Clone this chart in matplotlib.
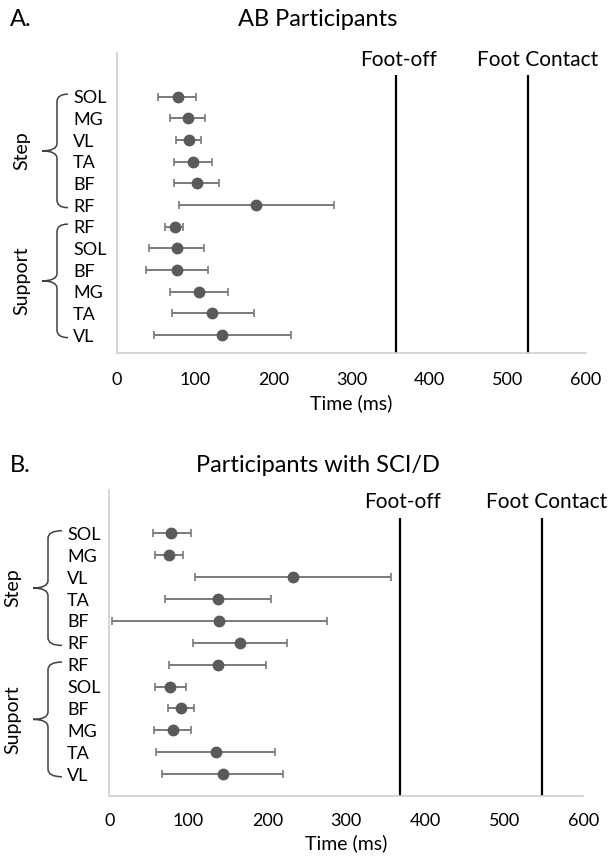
import matplotlib.pyplot as plt
from matplotlib.path import Path
from matplotlib.patches import PathPatch
import matplotlib.transforms as mtransforms

plt.rcParams['font.family'] = ['Lato', 'DejaVu Sans']

muscles = ["SOL", "MG", "VL", "TA", "BF", "RF", "RF", "SOL", "BF", "MG", "TA", "VL"]
muscles_sci = ["SOL", "MG", "VL", "TA", "BF", "RF", "RF", "SOL", "BF", "MG", "TA", "VL"]

# AB participants: mean onset, lower and upper whisker (ms)
ab_mean = [78, 91, 92, 97, 102, 178, 74, 77, 77, 105, 121, 134]
ab_low = [52, 68, 75, 73, 73, 79, 61, 41, 37, 68, 70, 47]
ab_high = [101, 113, 107, 121, 130, 278, 85, 111, 116, 142, 175, 222]
ab_footoff = 357
ab_contact = 526

# SCI/D participants
sci_mean = [78, 76, 232, 138, 139, 165, 137, 77, 91, 80, 135, 144]
sci_low = [55, 58, 109, 71, 3, 106, 76, 58, 74, 56, 59, 67]
sci_high = [103, 93, 356, 205, 275, 225, 198, 97, 107, 103, 210, 220]
sci_footoff = 368
sci_contact = 548

fig = plt.figure(figsize=(6.1, 8.6), dpi=100)
W, H = 610, 860


def brace(ax, y0, y1, xr, xm, xl):
    # curly brace in figure-x / data-y coordinates
    tr = mtransforms.blended_transform_factory(fig.transFigure, ax.transData)
    xr, xm, xl = xr / W, xm / W, xl / W
    ym = (y0 + y1) / 2
    d = 0.35
    verts = [(xr, y0), (xm, y0), (xm, y0 + d), (xm, y0 + d),
             (xm, ym - d), (xm, ym), (xl, ym),
             (xm, ym), (xm, ym + d), (xm, ym + d),
             (xm, y1 - d), (xm, y1), (xr, y1)]
    codes = [Path.MOVETO, Path.CURVE3, Path.CURVE3, Path.LINETO,
             Path.LINETO, Path.CURVE3, Path.CURVE3,
             Path.CURVE3, Path.CURVE3, Path.LINETO,
             Path.LINETO, Path.CURVE3, Path.CURVE3]
    ax.add_patch(PathPatch(Path(verts, codes), fill=False, lw=1.1,
                           color='#404040', transform=tr, clip_on=False))
    return tr


def panel(rect, names, mean, low, high, footoff, contact, ylim, line_top,
          bx, letter, title, title_y, xpad, cdx):
    ax = fig.add_axes(rect)
    ys = list(range(len(names)))
    xerr = [[m - lo for m, lo in zip(mean, low)], [hi - m for m, hi in zip(mean, high)]]
    ax.errorbar(mean, ys, xerr=xerr, fmt='o', color='#5a5a5a', ms=7.5,
                ecolor='#7a7a7a', elinewidth=1.4, capsize=3, capthick=1.2)
    ax.vlines([footoff, contact], line_top, ylim[0], color='black', lw=1.6)
    ax.set_xlim(0, 600)
    ax.set_ylim(*ylim)
    ax.set_xticks(range(0, 601, 100))
    ax.set_yticks(ys, labels=names)
    ax.tick_params(axis='x', length=0, pad=xpad, labelsize=13)
    pad = (rect[0] * W - bx[3]) * 72 / 100
    ax.tick_params(axis='y', length=0, pad=pad, labelsize=13)
    for lbl in ax.get_yticklabels():
        lbl.set_ha('left')
    ax.set_xlabel('Time (ms)', fontsize=14, labelpad=4)
    for s in ['top', 'right']:
        ax.spines[s].set_visible(False)
    for s in ['left', 'bottom']:
        ax.spines[s].set_color('#d0d0d0')
        ax.spines[s].set_linewidth(1.2)
    for x, dx, txt in [(footoff, 2, 'Foot-off'), (contact, cdx, 'Foot Contact')]:
        ax.annotate(txt, (x, line_top), xytext=(dx, 4), textcoords='offset points',
                    ha='center', va='bottom', fontsize=15, annotation_clip=False)
    xr, xm, xl, _, xlab = bx
    tr = brace(ax, -0.12, 5.12, xr, xm, xl)
    ax.text(xlab / W, 2.5, 'Step', transform=tr, rotation=90, ha='center',
            va='center', fontsize=14)
    tr = brace(ax, 5.88, 11.12, xr, xm, xl)
    ax.text(xlab / W, 8.5, 'Support', transform=tr, rotation=90, ha='center',
            va='center', fontsize=14)
    fig.text(10 / W, 1 - title_y / H, letter, fontsize=17, va='center')
    fig.text(318 / W, 1 - title_y / H, title, fontsize=17, ha='center', va='center')
    return ax


panel([117 / W, 1 - 353 / H, 469 / W, 300 / H], muscles, ab_mean, ab_low, ab_high,
      ab_footoff, ab_contact, (11.83, -2.02), -1.0,
      (68, 57, 42, 73, 22), 'A.', 'AB Participants', 20, 14, 7)
panel([109.3 / W, 1 - 796 / H, 474 / W, 306 / H], muscles_sci, sci_mean, sci_low, sci_high,
      sci_footoff, sci_contact, (12.0, -1.98), -0.7,
      (62, 48, 33, 67, 13), 'B.', 'Participants with SCI/D', 466, 12, 3.5)

fig.savefig('out.png', dpi=100)
